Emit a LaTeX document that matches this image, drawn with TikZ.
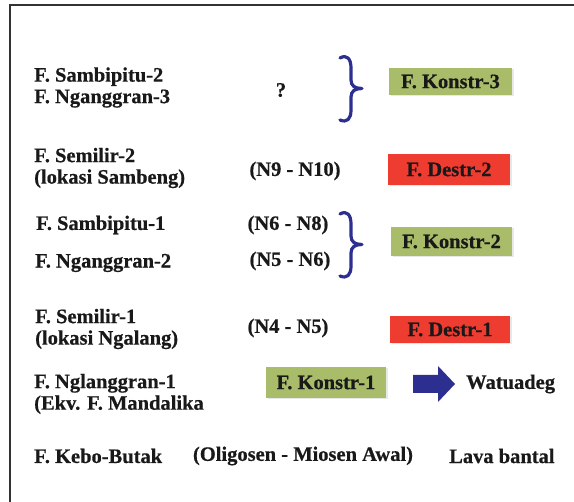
\documentclass[tikz,border=0pt]{standalone}
\usepackage{fontspec}
\setmainfont{Liberation Serif}[BoldFeatures={FakeBold=0.6}]
\usetikzlibrary{shadows}
\definecolor{kgreen}{RGB}{168,188,106}
\definecolor{dred}{RGB}{238,60,48}
\definecolor{bblue}{RGB}{44,46,144}
\definecolor{frame}{RGB}{50,50,50}
\definecolor{tx}{RGB}{25,25,25}
\begin{document}
\begin{tikzpicture}[x=1pt,y=-1pt,
  txt/.style={font=\fontsize{20.5}{21.5}\selectfont\bfseries, text=tx, inner sep=0pt, align=left},
  boxk/.style={fill=kgreen, inner sep=0pt, font=\fontsize{20.5}{21.5}\selectfont\bfseries, text=tx,
    drop shadow={opacity=0.18, shadow xshift=1.5pt, shadow yshift=-1.5pt}},
  boxd/.style={boxk, fill=dred},
  bracestyle/.style={draw=bblue, line width=3.2pt, line cap=round, line join=round}]
\useasboundingbox (0,0) rectangle (574,502);
% frame
\draw[frame, line width=2pt] (574,5) -- (10,5) -- (10,502);

% left column
\node[txt, anchor=west] (s2) at (34,87.5) {F. Sambipitu-2\\F. Nganggran-3};
\node[txt, anchor=west] (sm2) at (34,168) {F. Semilir-2\\(lokasi Sambeng)};
\node[txt, anchor=west] (s1) at (36,225) {F. Sambipitu-1};
\node[txt, anchor=west] (n2) at (35,263) {F. Nganggran-2};
\node[txt, anchor=west] (sm1) at (35,329) {F. Semilir-1\\(lokasi Ngalang)};
\node[txt, anchor=west] (n1) at (34,394) {F. Nglanggran-1\\(Ekv. F. Mandalika};
\node[txt, anchor=west] (kb) at (34,456) {F. Kebo-Butak};

% middle column
\node[txt] (q) at (281,90) {?};
\node[txt] (n910) at (295,171) {(N9 - N10)};
\node[txt] (n68) at (288,225) {(N6 - N8)};
\node[txt] (n56) at (290,261) {(N5 - N6)};
\node[txt] (n45) at (288,328) {(N4 - N5)};
\node[txt] (olig) at (303,456) {(Oligosen - Miosen Awal)};

% boxes
\node[boxk, minimum width=123pt, minimum height=27pt] (k3) at (450.5,81.5) {F. Konstr-3};
\node[boxd, minimum width=122pt, minimum height=31pt] (d2) at (449,169.5) {F. Destr-2};
\node[boxk, minimum width=121pt, minimum height=29pt] (k2) at (451.5,241.5) {F. Konstr-2};
\node[boxd, minimum width=120pt, minimum height=27pt] (d1) at (450,329.5) {F. Destr-1};
\node[boxk, minimum width=120pt, minimum height=31pt] (k1) at (326,382.5) {F. Konstr-1};

% right texts
\node[txt, anchor=west] (wat) at (466,384) {Watuadeg};
\node[txt, anchor=west] (lava) at (449,456) {Lava bantal};

% braces
\draw[bracestyle] (340,58) .. controls (347,54) and (351,59) .. (351,68) -- (351,80)
  .. controls (351,86) and (355,88.5) .. (362,88.5)
  .. controls (355,88.5) and (351,91) .. (351,97) -- (351,110)
  .. controls (351,119) and (347,123) .. (340,120);
\draw[bracestyle] (340,214) .. controls (347,210) and (351,215) .. (351,224) -- (351,236)
  .. controls (351,242) and (355,244.5) .. (362,244.5)
  .. controls (355,244.5) and (351,247) .. (351,253) -- (351,266)
  .. controls (351,275) and (347,279) .. (340,276);

% block arrow
\fill[bblue] (413,375) -- (438,375) -- (438,366) -- (455,384) -- (438,402) -- (438,393) -- (413,393) -- cycle;
\end{tikzpicture}
\end{document}
